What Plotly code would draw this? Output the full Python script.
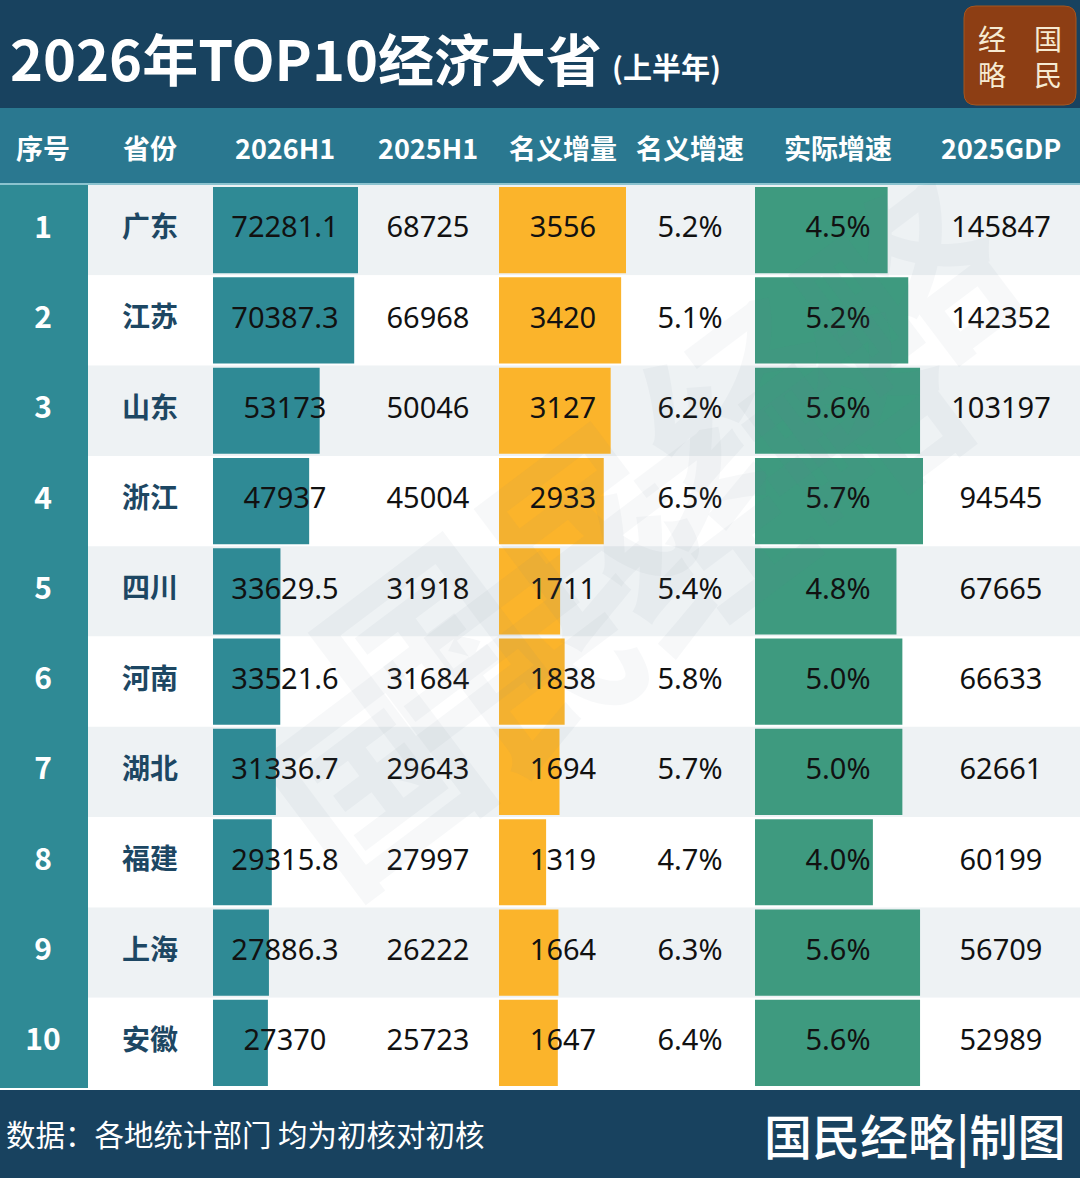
import plotly.graph_objects as go

ranks = ["1", "2", "3", "4", "5", "6", "7", "8", "9", "10"]
provinces = ["广东", "江苏", "山东", "浙江", "四川", "河南", "湖北", "福建", "上海", "安徽"]
gdp_2026h1 = [72281.1, 70387.3, 53173, 47937, 33629.5, 33521.6, 31336.7, 29315.8, 27886.3, 27370]
gdp_2025h1 = [68725, 66968, 50046, 45004, 31918, 31684, 29643, 27997, 26222, 25723]
nominal_inc = [3556, 3420, 3127, 2933, 1711, 1838, 1694, 1319, 1664, 1647]
nominal_growth = [5.2, 5.1, 6.2, 6.5, 5.4, 5.8, 5.7, 4.7, 6.3, 6.4]
real_growth = [4.5, 5.2, 5.6, 5.7, 4.8, 5.0, 5.0, 4.0, 5.6, 5.6]
gdp_2025 = [145847, 142352, 103197, 94545, 67665, 66633, 62661, 60199, 56709, 52989]
headers = ["序号", "省份", "2026H1", "2025H1", "名义增量", "名义增速", "实际增速", "2025GDP"]

title = "2026年TOP10经济大省"
subtitle = "(上半年)"
logo = "经　国<br>略　民"
source = "数据：各地统计部门 均为初核对初核"
credit = "国民经略|制图"
watermark = "国民经略"

W, H = 1080, 1178
ROW_TOP, ROW_BOT = 185, 1088
NAVY = "#18425f"
TEAL_HEAD = "#2a7890"
TEAL = "#2f8a95"
ORANGE = "#fbb42b"
GREEN = "#3e9a7f"
STRIPE = "#eef2f4"
CJK = "Noto Sans CJK SC"
NUM = "Noto Sans"

col_x = [43, 150, 285, 428, 563, 690, 838, 1001]


def px(x):
    return x / W


def py(y):
    return 1 - y / H


rows = list(range(len(provinces)))
fig = go.Figure()

# in-cell bars, each column on its own x axis (x, x2, x3)
bar_cols = [
    ("x", gdp_2026h1, TEAL),
    ("x2", nominal_inc, ORANGE),
    ("x3", real_growth, GREEN),
]
for ax, vals, color in bar_cols:
    fig.add_trace(go.Bar(
        x=vals, y=rows, orientation="h", xaxis=ax, yaxis="y",
        marker=dict(color=color, line=dict(width=0)),
        width=0.955, hoverinfo="skip", showlegend=False,
    ))

# cell texts on a full-width axis drawn above the bars
text_cols = [
    (ranks, dict(family=CJK, size=30, color="white", weight=700)),
    (provinces, dict(family=CJK, size=28, color="#1d4763", weight=700)),
    ([f"{v:g}" for v in gdp_2026h1], dict(family=NUM, size=29, color="#111111")),
    ([str(v) for v in gdp_2025h1], dict(family=NUM, size=29, color="#111111")),
    ([str(v) for v in nominal_inc], dict(family=NUM, size=29, color="#111111")),
    ([f"{v:.1f}%" for v in nominal_growth], dict(family=NUM, size=29, color="#111111")),
    ([f"{v:.1f}%" for v in real_growth], dict(family=NUM, size=29, color="#111111")),
    ([str(v) for v in gdp_2025], dict(family=NUM, size=29, color="#111111")),
]
for cx, (labels, font) in zip(col_x, text_cols):
    fig.add_trace(go.Scatter(
        x=[cx] * len(labels), y=rows, mode="text", text=labels,
        xaxis="x4", yaxis="y",
        textposition="middle center", textfont=font,
        hoverinfo="skip", showlegend=False, cliponaxis=False,
    ))

shapes = []
# row stripes
for i in rows:
    shapes.append(dict(
        type="rect", xref="paper", yref="y", x0=px(88), x1=1, y0=i - 0.5, y1=i + 0.5,
        fillcolor=STRIPE if i % 2 == 0 else "white", line=dict(width=0), layer="below",
    ))
# rank column
shapes.append(dict(type="rect", xref="paper", yref="paper", x0=0, x1=px(88),
                   y0=py(ROW_BOT), y1=py(ROW_TOP), fillcolor=TEAL, line=dict(width=0), layer="below"))
# title band, header band, footer band
shapes.append(dict(type="rect", xref="paper", yref="paper", x0=0, x1=1, y0=py(108), y1=1,
                   fillcolor=NAVY, line=dict(width=0), layer="below"))
shapes.append(dict(type="rect", xref="paper", yref="paper", x0=0, x1=1, y0=py(184), y1=py(108),
                   fillcolor=TEAL_HEAD, line=dict(width=0), layer="below"))
shapes.append(dict(type="line", xref="paper", yref="paper", x0=0, x1=1, y0=py(184), y1=py(184),
                   line=dict(color="#8cc3cf", width=2)))
shapes.append(dict(type="rect", xref="paper", yref="paper", x0=0, x1=1, y0=0, y1=py(ROW_BOT + 2),
                   fillcolor=NAVY, line=dict(width=0), layer="below"))


# logo box with rounded corners
def rounded(x0, y0, x1, y1, r):
    pts = [
        f"M {px(x0 + r)},{py(y0)}",
        f"L {px(x1 - r)},{py(y0)}",
        f"Q {px(x1)},{py(y0)} {px(x1)},{py(y0 + r)}",
        f"L {px(x1)},{py(y1 - r)}",
        f"Q {px(x1)},{py(y1)} {px(x1 - r)},{py(y1)}",
        f"L {px(x0 + r)},{py(y1)}",
        f"Q {px(x0)},{py(y1)} {px(x0)},{py(y1 - r)}",
        f"L {px(x0)},{py(y0 + r)}",
        f"Q {px(x0)},{py(y0)} {px(x0 + r)},{py(y0)} Z",
    ]
    return " ".join(pts)


shapes.append(dict(type="path", xref="paper", yref="paper", path=rounded(964, 6, 1076, 105, 12),
                   fillcolor="#8d3e14", line=dict(color="#a5561f", width=1)))

annotations = []
annotations.append(dict(x=px(8), y=py(56), xref="paper", yref="paper", text=title,
                        showarrow=False, xanchor="left", yanchor="middle",
                        font=dict(family=CJK, size=56, color="white", weight=700)))
annotations.append(dict(x=px(610), y=py(66), xref="paper", yref="paper", text=subtitle,
                        showarrow=False, xanchor="left", yanchor="middle",
                        font=dict(family=CJK, size=29, color="white", weight=700)))
annotations.append(dict(x=px(1020), y=py(56), xref="paper", yref="paper", text=logo,
                        showarrow=False, xanchor="center", yanchor="middle", align="center",
                        font=dict(family=CJK, size=28, color="#f6ead2", weight=400)))
for cx, h in zip(col_x, headers):
    annotations.append(dict(x=px(cx), y=py(147), xref="paper", yref="paper", text=h,
                            showarrow=False, xanchor="center", yanchor="middle",
                            font=dict(family=CJK, size=27, color="white", weight=700)))
annotations.append(dict(x=px(4), y=py(1133), xref="paper", yref="paper", text=source,
                        showarrow=False, xanchor="left", yanchor="middle",
                        font=dict(family=CJK, size=29.5, color="white")))
annotations.append(dict(x=px(1068), y=py(1134), xref="paper", yref="paper", text=credit,
                        showarrow=False, xanchor="right", yanchor="middle",
                        font=dict(family=CJK, size=48, color="white", weight=500)))
# faint diagonal watermarks
for wx, wy in [(610, 590), (660, 820)]:
    annotations.append(dict(x=px(wx), y=py(wy), xref="paper", yref="paper", text=watermark,
                            showarrow=False, textangle=-37,
                            font=dict(family=CJK, size=200, color="rgba(110,130,140,0.055)", weight=700)))

row_dom = [py(ROW_BOT), py(ROW_TOP)]
hidden = dict(visible=False, showgrid=False, zeroline=False, fixedrange=True)
fig.update_layout(
    width=W, height=H,
    margin=dict(l=0, r=0, t=0, b=0),
    paper_bgcolor="white", plot_bgcolor="rgba(0,0,0,0)",
    barmode="overlay",
    xaxis=dict(domain=[px(213), px(358)], range=[0, max(gdp_2026h1)], anchor="y", **hidden),
    xaxis2=dict(domain=[px(499), px(626)], range=[0, max(nominal_inc)], anchor="y", **hidden),
    xaxis3=dict(domain=[px(755), px(923)], range=[0, max(real_growth)], anchor="y", **hidden),
    xaxis4=dict(domain=[0, 1], range=[0, W], anchor="y", **hidden),
    yaxis=dict(domain=row_dom, range=[len(rows) - 0.5, -0.5], **hidden),
    shapes=shapes,
    annotations=annotations,
)

fig.write_html("out.html", config={"displayModeBar": False},
               post_script="document.body.style.margin='0';")
